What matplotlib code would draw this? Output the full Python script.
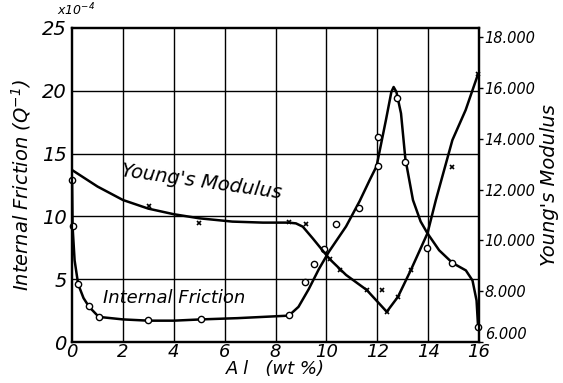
import matplotlib
matplotlib.use("Agg")
import matplotlib.pyplot as plt

# internal friction (x 1e-4) measured points, open circles
if_al = [0, 0.02, 0.24, 0.67, 1.05, 2.98, 5.07, 8.52, 9.15, 9.52, 9.91, 10.38,
         11.27, 12.04, 12.04, 12.77, 13.1, 13.96, 14.95, 15.96]
if_val = [12.9, 9.2, 4.6, 2.85, 2.0, 1.75, 1.8, 2.15, 4.8, 6.2, 7.4, 9.4,
          10.7, 14.0, 16.3, 19.45, 14.35, 7.5, 6.3, 1.2]

# hand drawn curve through internal friction
if_curve_al = [0, 0.02, 0.1, 0.24, 0.45, 0.67, 1.05, 2, 3, 4, 5.07, 6.5, 8.52,
               8.9, 9.3, 9.7, 10.1, 10.77, 11.3, 11.7, 11.97, 12.34, 12.55, 12.64,
               12.75, 12.93, 13.1, 13.4, 13.7, 13.97, 14.43, 14.95, 15.48, 15.74,
               15.9, 15.96]
if_curve_val = [12.9, 9.2, 6.5, 4.6, 3.5, 2.8, 2.0, 1.8, 1.7, 1.7, 1.8, 1.9, 2.1,
                2.8, 4.2, 5.8, 7.2, 9.2, 11.2, 12.9, 14.0, 17.7, 19.9, 20.3,
                19.9, 18.2, 14.6, 11.3, 9.6, 8.65, 7.3, 6.3, 5.7, 4.9, 3.3, 1.2]

# Young's modulus measured points, crosses
ym_al = [3.03, 5.0, 8.52, 9.18, 10.12, 10.55, 11.58, 12.2, 12.37, 12.81, 13.32,
         14.93, 15.96]
ym_val = [11370, 10670, 10710, 10630, 9270, 8840, 8050, 8050, 7190, 7780, 8840,
          12900, 16550]

ym_curve_al = [0, 1, 2, 3, 4, 5, 6.3, 7.5, 8.52, 8.8, 9.07, 9.46, 10.12, 10.77,
               11.58, 12.37, 12.81, 13.32, 13.97, 14.3, 14.95, 15.47, 15.96]
ym_curve_val = [12770, 12120, 11590, 11250, 11030, 10870, 10740, 10700, 10700,
                10670, 10540, 10080, 9270, 8640, 8050, 7190, 7780, 8840, 10280,
                11590, 13950, 15130, 16550]

xticks = [0, 2, 4, 6, 8, 10, 12, 14, 16]
left_ticks = [0, 5, 10, 15, 20, 25]
right_ticks = [6000, 8000, 10000, 12000, 14000, 16000, 18000]
right_labels = ["6.000", "8.000", "10.000", "12.000", "14.000", "16.000", "18.000"]

plt.rcParams["font.family"] = "DejaVu Sans"
plt.rcParams["font.style"] = "italic"

fig = plt.figure(figsize=(5.63, 3.83), dpi=100)
ax = fig.add_axes([0.128, 0.107, 0.723, 0.820])
ax2 = ax.twinx()

ax.set_xlim(0, 16)
ax.set_ylim(0, 25)
ax2.set_ylim(6000, 18362)

for x in xticks[1:-1]:
    ax.axvline(x, color="black", lw=1.0, zorder=1)
for y in left_ticks[1:-1]:
    ax.axhline(y, color="black", lw=1.0, zorder=1)

ax.plot(if_curve_al, if_curve_val, color="black", lw=1.8, zorder=3)
ax.plot(if_al, if_val, "o", ms=4.5, mfc="white", mec="black", mew=1.0, zorder=4,
        clip_on=False)

ax2.plot(ym_curve_al, ym_curve_val, color="black", lw=1.8, zorder=3)
ax2.plot(ym_al, ym_val, "x", ms=3.5, color="black", mew=1.2, zorder=4,
         clip_on=False)

for a in (ax, ax2):
    for s in a.spines.values():
        s.set_linewidth(1.6)

ax.set_xticks(xticks)
ax.set_xticklabels([str(v) for v in xticks], fontsize=13)
ax.set_yticks(left_ticks)
ax.set_yticklabels([str(v) for v in left_ticks], fontsize=14)
ax.tick_params(axis="y", length=0, pad=4)
ax.tick_params(axis="x", length=0, pad=1)
ax2.set_yticks(right_ticks)
ax2.set_yticklabels(right_labels, fontsize=10.5)
ax2.tick_params(axis="y", direction="out", length=3, width=1, pad=1)
# bottom label sits just above the axis corner, clear of the "16"
ax2.get_yticklabels()[0].set_verticalalignment("bottom")

ax.set_ylabel("Internal Friction (Q$^{-1}$)", fontsize=14, labelpad=6)
ax2.set_ylabel("Young's Modulus", fontsize=14, labelpad=3)
ax.set_xlabel("A l   (wt %)", fontsize=13, labelpad=-1)

ax.text(-0.6, 26.0, "x10$^{-4}$", fontsize=9, clip_on=False)
ax.text(1.9, 11.4, "Young's Modulus", fontsize=14, rotation=-8)
ax.text(1.2, 3.1, "Internal Friction", fontsize=13)

fig.savefig("out.png", dpi=100)
